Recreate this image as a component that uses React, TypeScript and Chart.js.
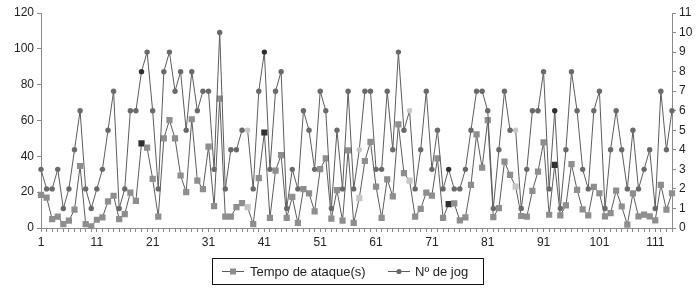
import React, { useEffect, useRef } from 'react';
import { Chart, registerables } from 'chart.js';

Chart.register(...registerables);

const categories: string[] = Array.from({ length: 114 }, (_, i) => String(i + 1));

const tempoAtaque: number[] = [
  18.5, 17, 5, 6.3, 2.2, 4.1, 10.2, 34.6, 2.2, 0.9,
  4.6, 5.9, 14.8, 18, 5, 7.8, 19.8, 15.2, 47.2, 44.8,
  27.4, 6.3, 50, 60.2, 50, 29.3, 20, 60.7, 26.5, 21.7,
  45.4, 12.2, 72.2, 6.3, 6.3, 11.7, 13.9, 11.7, 2.2, 27.8,
  53.3, 5.6, 32, 40.7, 5.6, 17.4, 2.8, 21.7, 19.3, 9.3,
  32.8, 38.9, 5.2, 21.1, 4.1, 43.3, 2.8, 16.7, 37.4, 48.1,
  23.1, 5.6, 27.2, 17.6, 57.8, 30.6, 26.5, 6.3, 10.7, 19.8,
  18.1, 38.9, 5.6, 13.3, 13.7, 4.3, 5.9, 24.1, 52.2, 33.7,
  60.2, 6.1, 11.1, 37, 29.6, 23.1, 6.7, 6.3, 20.7, 31.5,
  47.8, 7.4, 35.2, 7, 12.6, 35.6, 21.3, 10.4, 7, 23,
  19.4, 6.5, 8.3, 20.9, 12, 1.9, 19.3, 6.5, 7.5, 6.5,
  4.3, 24.1, 10.2, 19.4,
];

const nJog: number[] = [
  3, 2, 2, 3, 1, 2, 4, 6, 2, 1,
  2, 3, 5, 7, 1, 2, 6, 6, 8, 9,
  6, 2, 8, 9, 7, 8, 5, 8, 6, 7,
  7, 3, 10, 2, 4, 4, 5, 5, 2, 7,
  9, 3, 7, 8, 1, 3, 2, 6, 5, 3,
  7, 6, 1, 5, 2, 7, 2, 4, 7, 7,
  3, 3, 7, 4, 9, 5, 6, 2, 4, 7,
  3, 5, 2, 3, 2, 2, 3, 5, 7, 7,
  6, 1, 4, 7, 5, 5, 1, 3, 6, 6,
  8, 2, 6, 1, 4, 8, 6, 3, 2, 6,
  7, 1, 4, 6, 4, 2, 5, 2, 3, 4,
  1, 7, 4, 6,
];

const seriesNames = ['Tempo de ataque(s)', 'N\u00ba de jog'];

// style: emphasised markers (1-based category numbers)
const darkMarks = [19, 41, 74, 93];
const lightMarks = [38, 58, 67, 86];

const FONT = '"Liberation Sans", Arial, sans-serif';
const TEXT = '#222';
const AXIS = '#8a8a8a';
const LINE = '#5c5c5c';
const SQ = '#8e8e8e';
const CI = '#6a6a6a';

function markColors(base: string) {
  return categories.map((_, i) =>
    darkMarks.includes(i + 1) ? '#303030' : lightMarks.includes(i + 1) ? '#c6c6c6' : base
  );
}

const legendPlugin = {
  id: 'boxLegend',
  afterDraw(chart: any) {
    const ctx = chart.ctx as CanvasRenderingContext2D;
    ctx.save();
    ctx.strokeStyle = '#111';
    ctx.lineWidth = 1;
    ctx.strokeRect(212.5, 258.5, 271, 26);
    const cy = 271.5;
    ctx.font = `13px ${FONT}`;
    ctx.fillStyle = TEXT;
    ctx.textBaseline = 'middle';
    // item 1
    ctx.strokeStyle = LINE;
    ctx.beginPath();
    ctx.moveTo(222, cy);
    ctx.lineTo(244, cy);
    ctx.stroke();
    ctx.fillStyle = SQ;
    ctx.fillRect(230, cy - 3, 6, 6);
    ctx.fillStyle = TEXT;
    ctx.fillText(seriesNames[0], 250, cy + 0.5);
    // item 2
    ctx.strokeStyle = LINE;
    ctx.beginPath();
    ctx.moveTo(388, cy);
    ctx.lineTo(410, cy);
    ctx.stroke();
    ctx.fillStyle = CI;
    ctx.beginPath();
    ctx.arc(399, cy, 2.6, 0, Math.PI * 2);
    ctx.fill();
    ctx.fillStyle = TEXT;
    ctx.fillText(seriesNames[1], 415, cy + 0.5);
    ctx.restore();
  },
};

export default function App() {
  const ref = useRef<HTMLCanvasElement | null>(null);

  useEffect(() => {
    if (!ref.current) return;
    const tickFont = { family: FONT, size: 12 };
    const chart = new Chart(ref.current, {
      type: 'line',
      data: {
        labels: categories,
        datasets: [
          {
            label: seriesNames[0],
            data: tempoAtaque,
            yAxisID: 'y',
            borderColor: LINE,
            borderWidth: 1,
            pointStyle: 'rect',
            pointRadius: 4.4,
            pointBorderWidth: 0,
            pointBackgroundColor: markColors(SQ),
            pointBorderColor: markColors(SQ),
            tension: 0,
            order: 2,
          },
          {
            label: seriesNames[1],
            data: nJog,
            yAxisID: 'y1',
            borderColor: LINE,
            borderWidth: 1,
            pointStyle: 'circle',
            pointRadius: 2.7,
            pointBorderWidth: 0,
            pointBackgroundColor: markColors(CI),
            pointBorderColor: markColors(CI),
            tension: 0,
            order: 1,
          },
        ],
      },
      options: {
        responsive: false,
        animation: false,
        events: [],
        layout: { padding: { top: 13, bottom: 49, left: 0, right: 0 } },
        plugins: {
          legend: { display: false },
          tooltip: { enabled: false },
        },
        scales: {
          x: {
            type: 'category',
            offset: false,
            grid: { display: true, drawOnChartArea: false, drawTicks: true, tickLength: 4, color: AXIS },
            border: { display: true, color: AXIS },
            ticks: {
              autoSkip: false,
              maxRotation: 0,
              minRotation: 0,
              padding: 3,
              color: TEXT,
              font: tickFont,
              callback: (_v: any, i: number) => (i % 10 === 0 ? categories[i] : ''),
            },
            afterFit: (s: any) => {
              s.height = 22;
            },
          },
          y: {
            position: 'left',
            min: 0,
            max: 120,
            grid: { display: true, drawOnChartArea: false, drawTicks: true, tickLength: 4, color: AXIS },
            border: { display: true, color: AXIS },
            ticks: { stepSize: 20, color: TEXT, font: tickFont, padding: 3 },
            afterFit: (s: any) => {
              s.width = 41;
            },
          },
          y1: {
            position: 'right',
            min: 0,
            max: 11,
            grid: { display: true, drawOnChartArea: false, drawTicks: true, tickLength: 4, color: AXIS },
            border: { display: true, color: AXIS },
            ticks: { stepSize: 1, color: TEXT, font: tickFont, padding: 3 },
            afterFit: (s: any) => {
              s.width = 28;
            },
          },
        },
      },
      plugins: [legendPlugin],
    });
    return () => chart.destroy();
  }, []);

  return (
    <div style={{ position: 'absolute', left: 0, top: 0, width: 700, height: 299, background: '#fff' }}>
      <canvas ref={ref} width={700} height={299} style={{ display: 'block', width: 700, height: 299 }} />
    </div>
  );
}
